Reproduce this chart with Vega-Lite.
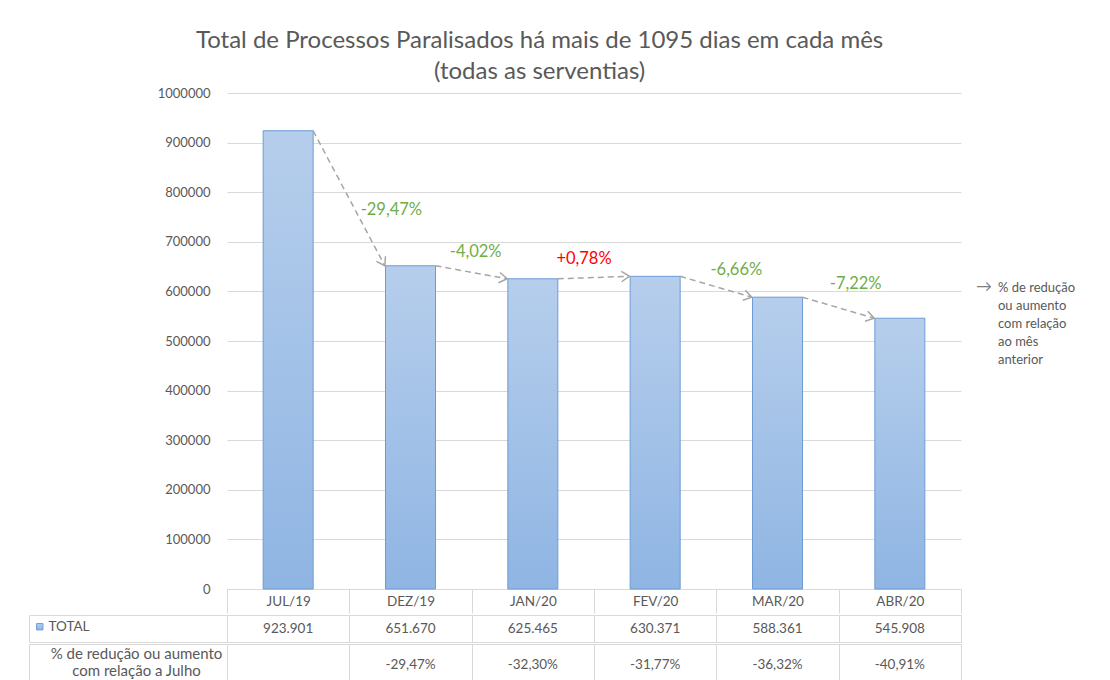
{
  "$schema": "https://vega.github.io/schema/vega-lite/v6.json",
  "background": "white",
  "padding": {"left": 28, "top": 29, "right": 5, "bottom": 0},
  "config": {
    "font": "Lato",
    "locale": {"number": {"decimal": ",", "thousands": ".", "grouping": [3], "currency": ["R$", ""], "minus": "-"}},
    "view": {"stroke": null},
    "axis": {"labelColor": "#595959", "titleColor": "#595959"}
  },
  "title": {
    "text": ["Total de Processos Paralisados há mais de 1095 dias em cada mês", "(todas as serventias)"],
    "fontSize": 24,
    "fontWeight": "normal",
    "color": "#595959",
    "lineHeight": 31,
    "anchor": "middle",
    "dx": -12,
    "offset": 3
  },
  "datasets": {
    "meses": [
      {"mes": "JUL/19", "serie": "TOTAL", "total": 923901, "pct_julho": null},
      {"mes": "DEZ/19", "serie": "TOTAL", "total": 651670, "pct_julho": -0.2947},
      {"mes": "JAN/20", "serie": "TOTAL", "total": 625465, "pct_julho": -0.3230},
      {"mes": "FEV/20", "serie": "TOTAL", "total": 630371, "pct_julho": -0.3177},
      {"mes": "MAR/20", "serie": "TOTAL", "total": 588361, "pct_julho": -0.3632},
      {"mes": "ABR/20", "serie": "TOTAL", "total": 545908, "pct_julho": -0.4091}
    ],
    "variacoes": [
      {"de": "JUL/19", "para": "DEZ/19", "v_de": 923901, "v_para": 651670, "var": -0.2947},
      {"de": "DEZ/19", "para": "JAN/20", "v_de": 651670, "v_para": 625465, "var": -0.0402},
      {"de": "JAN/20", "para": "FEV/20", "v_de": 625465, "v_para": 630371, "var": 0.0078},
      {"de": "FEV/20", "para": "MAR/20", "v_de": 630371, "v_para": 588361, "var": -0.0666},
      {"de": "MAR/20", "para": "ABR/20", "v_de": 588361, "v_para": 545908, "var": -0.0722}
    ],
    "nota": [
      {"mes": "ABR/20", "texto": "% de redução\nou aumento\ncom relação\nao mês\nanterior"}
    ]
  },
  "spacing": 0,
  "vconcat": [
    {
      "width": 734,
      "height": 496,
      "view": {"stroke": null},
      "layer": [
        {
          "data": {"name": "meses"},
          "mark": {
            "type": "bar",
            "size": 50,
            "strokeWidth": 1,
            "fill": {"gradient": "linear", "x1": 0, "y1": 0, "x2": 0, "y2": 1,
              "stops": [{"offset": 0, "color": "#b6ceec"}, {"offset": 1, "color": "#8fb5e3"}]}
          },
          "encoding": {
            "x": {
              "field": "mes", "type": "nominal",
              "scale": {"domain": ["JUL/19", "DEZ/19", "JAN/20", "FEV/20", "MAR/20", "ABR/20"], "paddingInner": 0, "paddingOuter": 0},
              "axis": {"title": null, "labelAngle": 0, "tickBand": "extent", "tickSize": 24, "tickColor": "#d9d9d9", "domainColor": "#d9d9d9", "labelPadding": -12, "labelBaseline": "middle", "labelFontSize": 13.5, "grid": false}
            },
            "y": {
              "field": "total", "type": "quantitative",
              "scale": {"domain": [0, 1000000], "nice": false},
              "axis": {"title": null, "values": [0, 100000, 200000, 300000, 400000, 500000, 600000, 700000, 800000, 900000, 1000000], "format": "d", "grid": true, "gridColor": "#d9d9d9", "domain": false, "ticks": false, "labelPadding": 17, "labelFontSize": 13}
            },
            "stroke": {
              "field": "serie", "type": "nominal",
              "scale": {"range": ["#6d9bd4"]},
              "legend": {"orient": "none", "legendX": -194, "legendY": 527, "title": null, "symbolType": "square", "symbolSize": 40, "symbolFillColor": "#8fb4e3", "symbolStrokeWidth": 1, "labelFontSize": 13.5, "labelColor": "#595959", "labelOffset": 2, "padding": 0}
            }
          }
        },
        {
          "data": {"name": "variacoes"},
          "mark": {"type": "rule", "strokeDash": [6, 4], "color": "#a6a6a6", "strokeWidth": 1.5},
          "encoding": {
            "x": {"field": "de", "type": "nominal", "bandPosition": 0.704},
            "x2": {"field": "para", "bandPosition": 0.29},
            "y": {"field": "v_de", "type": "quantitative"},
            "y2": {"field": "v_para"}
          }
        },
        {
          "data": {"name": "variacoes"},
          "mark": {"type": "point", "shape": "M-1,-0.65L0,0L-1,0.65", "filled": false, "stroke": "#a6a6a6", "strokeWidth": 1.5, "size": 256, "opacity": 1},
          "encoding": {
            "x": {"field": "para", "type": "nominal", "bandPosition": 0.29},
            "y": {"field": "v_para", "type": "quantitative"},
            "angle": {"field": "var", "type": "quantitative", "scale": {"domain": [-0.3, 0.01], "range": [62, -2]}, "legend": null}
          }
        },
        {
          "data": {"name": "variacoes"},
          "transform": [{"filter": "datum.de === 'JUL/19'"}],
          "mark": {"type": "text", "fontSize": 16.5, "align": "center", "baseline": "middle", "dx": 42, "dy": 79},
          "encoding": {
            "x": {"field": "para", "type": "nominal", "bandPosition": 0},
            "y": {"field": "v_de", "type": "quantitative"},
            "text": {"field": "var", "type": "quantitative", "format": "+.2%"},
            "color": {"condition": {"test": "datum.var > 0", "value": "#ff0000"}, "value": "#70ad47"}
          }
        },
        {
          "data": {"name": "variacoes"},
          "transform": [{"filter": "datum.de === 'DEZ/19'"}],
          "mark": {"type": "text", "fontSize": 16.5, "align": "center", "baseline": "middle", "dx": 4, "dy": -14},
          "encoding": {
            "x": {"field": "para", "type": "nominal", "bandPosition": 0},
            "y": {"field": "v_de", "type": "quantitative"},
            "text": {"field": "var", "type": "quantitative", "format": "+.2%"},
            "color": {"condition": {"test": "datum.var > 0", "value": "#ff0000"}, "value": "#70ad47"}
          }
        },
        {
          "data": {"name": "variacoes"},
          "transform": [{"filter": "datum.de === 'JAN/20'"}],
          "mark": {"type": "text", "fontSize": 16.5, "align": "center", "baseline": "middle", "dx": -10, "dy": -20},
          "encoding": {
            "x": {"field": "para", "type": "nominal", "bandPosition": 0},
            "y": {"field": "v_de", "type": "quantitative"},
            "text": {"field": "var", "type": "quantitative", "format": "+.2%"},
            "color": {"condition": {"test": "datum.var > 0", "value": "#ff0000"}, "value": "#70ad47"}
          }
        },
        {
          "data": {"name": "variacoes"},
          "transform": [{"filter": "datum.de === 'FEV/20'"}],
          "mark": {"type": "text", "fontSize": 16.5, "align": "center", "baseline": "middle", "dx": 20, "dy": -6},
          "encoding": {
            "x": {"field": "para", "type": "nominal", "bandPosition": 0},
            "y": {"field": "v_de", "type": "quantitative"},
            "text": {"field": "var", "type": "quantitative", "format": "+.2%"},
            "color": {"condition": {"test": "datum.var > 0", "value": "#ff0000"}, "value": "#70ad47"}
          }
        },
        {
          "data": {"name": "variacoes"},
          "transform": [{"filter": "datum.de === 'MAR/20'"}],
          "mark": {"type": "text", "fontSize": 16.5, "align": "center", "baseline": "middle", "dx": 17, "dy": -13},
          "encoding": {
            "x": {"field": "para", "type": "nominal", "bandPosition": 0},
            "y": {"field": "v_de", "type": "quantitative"},
            "text": {"field": "var", "type": "quantitative", "format": "+.2%"},
            "color": {"condition": {"test": "datum.var > 0", "value": "#ff0000"}, "value": "#70ad47"}
          }
        },
        {
          "data": {"name": "nota"},
          "mark": {"type": "text", "text": "→", "align": "left", "baseline": "middle", "dx": 15, "fontSize": 16, "color": "#7f7f7f"},
          "encoding": {
            "x": {"field": "mes", "type": "nominal", "bandPosition": 1},
            "y": {"datum": 608000, "type": "quantitative"}
          }
        },
        {
          "data": {"name": "nota"},
          "mark": {"type": "text", "align": "left", "baseline": "middle", "dx": 37, "lineBreak": "\n", "lineHeight": 18, "fontSize": 13, "color": "#595959"},
          "encoding": {
            "x": {"field": "mes", "type": "nominal", "bandPosition": 1},
            "y": {"datum": 606000, "type": "quantitative"},
            "text": {"field": "texto"}
          }
        }
      ]
    },
    {
      "width": 734,
      "height": 27,
      "view": {"stroke": "#d9d9d9"},
      "data": {"name": "meses"},
      "mark": {"type": "text", "fontSize": 13.5, "color": "#595959"},
      "encoding": {
        "x": {
          "field": "mes", "type": "nominal",
          "scale": {"domain": ["JUL/19", "DEZ/19", "JAN/20", "FEV/20", "MAR/20", "ABR/20"], "paddingInner": 0, "paddingOuter": 0},
          "axis": {"title": null, "labels": false, "ticks": false, "domain": false, "grid": true, "tickBand": "extent", "gridColor": "#d9d9d9"}
        },
        "y": {
          "datum": "TOTAL", "type": "nominal",
          "scale": {"paddingInner": 0, "paddingOuter": 0},
          "axis": {"title": null, "labels": false, "offset": 198, "tickSize": -198, "tickBand": "extent", "tickColor": "#d9d9d9", "domainColor": "#d9d9d9", "grid": false}
        },
        "text": {"field": "total", "type": "quantitative", "format": ",d"}
      }
    },
    {
      "width": 734,
      "height": 42,
      "view": {"stroke": "#d9d9d9"},
      "data": {"name": "meses"},
      "transform": [{"filter": "isValid(datum.pct_julho)"}],
      "mark": {"type": "text", "fontSize": 13.5, "color": "#595959"},
      "encoding": {
        "x": {
          "field": "mes", "type": "nominal",
          "scale": {"domain": ["JUL/19", "DEZ/19", "JAN/20", "FEV/20", "MAR/20", "ABR/20"], "paddingInner": 0, "paddingOuter": 0},
          "axis": {"title": null, "labels": false, "ticks": false, "domain": false, "grid": true, "tickBand": "extent", "gridColor": "#d9d9d9"}
        },
        "y": {
          "datum": "pct", "type": "nominal",
          "scale": {"paddingInner": 0, "paddingOuter": 0},
          "axis": {
            "title": ["% de redução ou aumento", "com relação a Julho"],
            "titleAngle": 0, "titleAlign": "center", "titleBaseline": "middle",
            "titleX": 107, "titleY": 9.5, "titleFontSize": 15, "titleFontWeight": "normal", "titleColor": "#595959", "titleLineHeight": 17,
            "labels": false, "offset": 198, "tickSize": -198, "tickBand": "extent", "tickColor": "#d9d9d9", "domainColor": "#d9d9d9", "grid": false
          }
        },
        "text": {"field": "pct_julho", "type": "quantitative", "format": ".2%"}
      }
    }
  ]
}
